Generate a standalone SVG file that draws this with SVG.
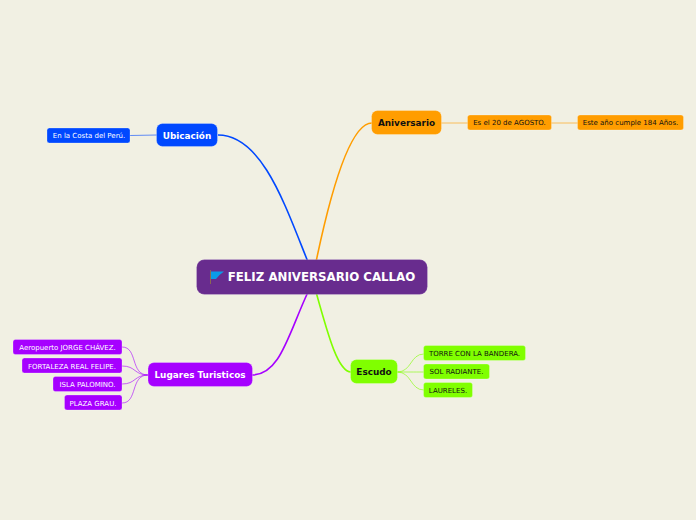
<svg xmlns="http://www.w3.org/2000/svg" width="696" height="520" viewBox="0 0 696 520">
<style>
text{font-family:"DejaVu Sans",Verdana,sans-serif;text-anchor:middle}
.m{font-size:8.900px;font-weight:700}
.s{font-size:7px}
.w{fill:#fff}.k{fill:#111}
.c{fill:none;stroke-width:1.6}
.t{fill:none;stroke-width:1;stroke-opacity:.6}
.bl{stroke:#0048ff}.or{stroke:#ff9d00}.pu{stroke:#a600ff}.gr{stroke:#80ff00}
.fb{fill:#0048ff}.fo{fill:#ff9d00}.fp{fill:#a600ff}.fg{fill:#80ff00}
.e{stroke-width:1;stroke-opacity:.25;stroke:#fff}
</style>
<rect width="696" height="520" fill="#f1f0e3"/>
<g id="connectors">
<path class="c bl" d="M218 135C262 135 285 205 308 262"/>
<path class="c or" d="M316 262C331 190 350 123 372 123"/>
<path class="c pu" d="M308 292C288 335 280 375 252 375"/>
<path class="c gr" d="M316 292C328 335 338 372 351 372"/>
<path class="t bl" d="M130 135.500L157 135"/>
<path class="t or" d="M441 123H468M551 123H578"/>
<path class="t gr" d="M397 372C412 372 410 354 424 354M397 372C410 372 412 372 424 372M397 372C412 372 410 390 424 390"/>
<path class="t pu" d="M122 347C138 347 130 375 148 375M122 366C136 366 134 375 148 375M122 384C136 384 134 375 148 375M122 403C138 403 130 375 148 375"/>
</g>
<g id="root">
<rect x="196.500" y="259.500" width="231" height="35" rx="8" fill="#682c8e" stroke="#fff" stroke-opacity=".2"/>
<path d="M210.500 270V284" stroke="#8a6a50" stroke-width="1"/>
<path d="M211 271.500H224L219.500 275L216 279H211Z" fill="#0a9be8"/>
<text x="321.500" y="280.800" font-size="11.800" font-weight="700" fill="#fff">FELIZ ANIVERSARIO CALLAO</text>
</g>
<g id="ubicacion"><rect class="fb e" x="156.500" y="123.500" width="61" height="23" rx="6"/><text class="m w" x="187" y="138.800">Ubicación</text></g>
<g id="costa"><rect class="fb e" x="47" y="128" width="83" height="15" rx="2.500"/><text class="s w" x="89" y="138.300">En la Costa del Perú.</text></g>
<g id="aniversario"><rect class="fo e" x="371.500" y="110.500" width="70" height="24" rx="6"/><text class="m k" x="406.500" y="126">Aniversario</text></g>
<g id="agosto"><rect class="fo e" x="467.500" y="115" width="84" height="15" rx="2.500"/><text class="s k" x="509.500" y="125.300">Es el 20 de AGOSTO.</text></g>
<g id="anios"><rect class="fo e" x="577.500" y="115" width="106" height="15" rx="2.500"/><text class="s k" x="630.500" y="125.300">Este año cumple 184 Años.</text></g>
<g id="escudo"><rect class="fg e" x="350.500" y="359.500" width="47" height="24" rx="6"/><text class="m k" x="374" y="375">Escudo</text></g>
<g id="torre"><rect class="fg e" x="423.500" y="345.500" width="102" height="15" rx="2.500"/><text class="s k" x="474.500" y="356">TORRE CON LA BANDERA.</text></g>
<g id="sol"><rect class="fg e" x="423.500" y="364" width="66" height="15" rx="2.500"/><text class="s k" x="456.500" y="374">SOL RADIANTE.</text></g>
<g id="laureles"><rect class="fg e" x="423.500" y="382.500" width="49" height="15" rx="2.500"/><text class="s k" x="448" y="393">LAURELES.</text></g>
<g id="lugares"><rect class="fp e" x="148" y="362.500" width="104.500" height="24" rx="6"/><text class="m w" x="200" y="378">Lugares Turisticos</text></g>
<g id="chavez"><rect class="fp e" x="13" y="339.500" width="109" height="15" rx="2.500"/><text class="s w" x="67.500" y="350">Aeropuerto JORGE CHÁVEZ.</text></g>
<g id="felipe"><rect class="fp e" x="22" y="358" width="100" height="15" rx="2.500"/><text class="s w" x="72" y="368.500">FORTALEZA REAL FELIPE.</text></g>
<g id="palomino"><rect class="fp e" x="53" y="376.500" width="69" height="15" rx="2.500"/><text class="s w" x="87.500" y="387">ISLA PALOMINO.</text></g>
<g id="grau"><rect class="fp e" x="64.500" y="395" width="57.500" height="15" rx="2.500"/><text class="s w" x="93" y="405.500">PLAZA GRAU.</text></g>
</svg>
